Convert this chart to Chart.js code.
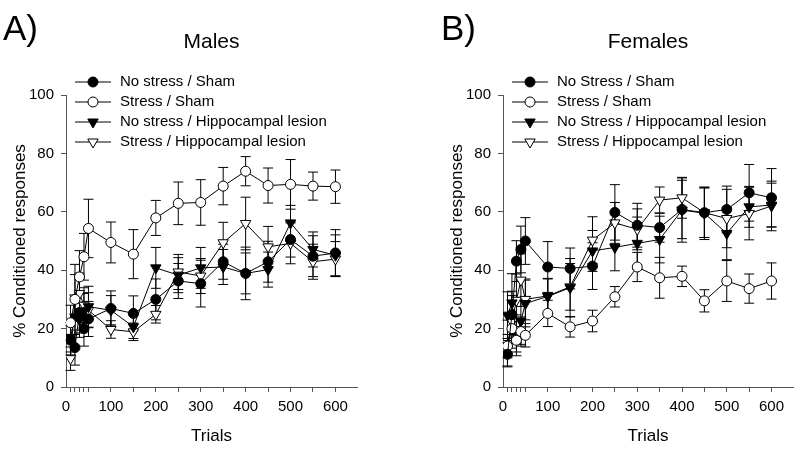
<!DOCTYPE html>
<html>
<head>
<meta charset="utf-8">
<script src="https://cdn.jsdelivr.net/npm/chart.js@4.4.1/dist/chart.umd.min.js"></script>
<style>
  body { margin: 0; background: #fff; }
  #wrap { position: relative; width: 800px; height: 451px; }
  canvas { position: absolute; top: 0; }
</style>
</head>
<body>
<div id="wrap">
  <canvas id="males" width="400" height="451" style="left:0"></canvas>
  <canvas id="females" width="400" height="451" style="left:400px"></canvas>
</div>
<script>
// blocos de tentativas (eixo x)
const trials = [10, 20, 30, 40, 50, 100, 150, 200, 250, 300, 350, 400, 450, 500, 550, 600];
const xTicks = [0].concat(trials);
const yTicks = [0, 20, 40, 60, 80, 100];

// Machos - % respostas condicionadas
const nsShamM = [16, 13.5, 25.5, 20, 23.3, 26.9, 25.2, 30, 36.3, 35.4, 42.9, 38.9, 42.9, 50.5, 44.8, 45.9];
const sShamM = [22, 30, 37.7, 44.6, 54.3, 49.5, 45.5, 57.9, 62.9, 63.2, 68.8, 73.9, 69, 69.4, 68.8, 68.6];
const nsHippM = [17, 24, 23, 26, 27.5, 26.3, 20.6, 40.8, 38.3, 40.8, 41.1, 38.9, 40.2, 56.2, 47.1, 45.1];
const sHippM = [9.7, 30.5, 32, 28, 26.3, 19.7, 18.9, 24.9, 39.4, 38, 49.4, 56, 48, 49.2, 42.9, 43.8];
// erro padrão (machos)
const nsShamMErr = [5, 6, 7, 6, 6, 6, 6, 7, 6, 8, 6, 9, 7, 6, 7, 8];
const sShamMErr = [6, 12, 9, 8, 10, 7, 8.4, 6, 7.3, 7.8, 6.4, 5, 6, 8.5, 4.8, 5.7];
const nsHippMErr = [5, 6, 6, 6, 7, 5, 4, 7, 6, 7, 6, 7, 6, 6, 6, 7];
const sHippMErr = [4, 8, 7, 6, 6, 3, 3, 3, 6, 6, 7, 9, 7, 7, 6, 6];

// Fêmeas
const nsShamF = [11.2, 24.8, 43.1, 47.1, 50, 41.1, 40.6, 41.4, 59.8, 55.4, 54.6, 60.8, 59.7, 60.8, 66.5, 64.8];
const sShamF = [14, 20, 16, 19, 17.7, 25.2, 20.6, 22.6, 30.9, 41.1, 37.4, 37.9, 29.5, 36.3, 33.7, 36.3];
const nsHippF = [24.6, 28.8, 17.7, 22.6, 28.6, 31, 34, 46.6, 47.8, 49.2, 50.5, 60.6, 59.5, 52.6, 61.7, 62.3];
const sHippF = [14.9, 22.3, 29.7, 36.6, 30, 31.2, 34.3, 50.3, 56.2, 54, 64, 64.8, 59.7, 57.7, 59.4, 62];
// erro padrão (fêmeas)
const nsShamFErr = [4, 8, 7, 8, 8, 8.7, 7, 8, 9.5, 7.5, 5, 10, 8.5, 8, 9.7, 10];
const sShamFErr = [4, 5, 4, 5, 4, 4.5, 3.5, 3.7, 3.5, 5, 7, 3.5, 3.8, 7, 5, 6.2];
const nsHippFErr = [8, 10, 7, 8, 8, 6, 10, 7, 8, 9, 8, 11, 9, 9, 7, 7.5];
const sHippFErr = [8, 9, 9, 9, 7, 6, 8, 8, 7, 7, 4.5, 7, 8.5, 10, 9, 8.5];

const namesM = ['No stress / Sham', 'Stress / Sham', 'No stress / Hippocampal lesion', 'Stress / Hippocampal lesion'];
const namesF = ['No Stress / Sham', 'Stress / Sham', 'No Stress / Hippocampal lesion', 'Stress / Hippocampal lesion'];

const FONT = "'Liberation Sans', Arial, sans-serif";
const axisCol = '#555';

// estilo dos marcadores: cheio/vazio, círculo/triângulo invertido
const markers = [
    { style: 'circle', fill: '#000', rot: 0, r: 5 },
    { style: 'circle', fill: '#fff', rot: 0, r: 5 },
    { style: 'triangle', fill: '#000', rot: 180, r: 6 },
    { style: 'triangle', fill: '#fff', rot: 180, r: 6 }
];

// plugin: barras de erro, legenda e títulos
const extras = {
    id: 'extras',
    beforeDatasetsDraw(chart) {
        const ctx = chart.ctx;
        const xs = chart.scales.x, ys = chart.scales.y;
        ctx.save();
        ctx.strokeStyle = '#000';
        ctx.lineWidth = 1;
        chart.data.datasets.forEach(ds => {
            ds.data.forEach((p, i) => {
                const e = ds.err[i];
                const px = xs.getPixelForValue(p.x);
                const top = ys.getPixelForValue(p.y + e);
                const bot = ys.getPixelForValue(p.y - e);
                ctx.beginPath();
                ctx.moveTo(px, top); ctx.lineTo(px, bot);
                ctx.moveTo(px - 5, top); ctx.lineTo(px + 5, top);
                ctx.moveTo(px - 5, bot); ctx.lineTo(px + 5, bot);
                ctx.stroke();
            });
        });
        ctx.restore();
    },
    afterDraw(chart, args, opts) {
        const ctx = chart.ctx;
        const ca = chart.chartArea;
        ctx.save();
        ctx.fillStyle = '#000';
        ctx.textBaseline = 'alphabetic';
        ctx.font = '35px ' + FONT;
        ctx.textAlign = 'left';
        ctx.fillText(opts.letter, opts.letterX, 40);
        ctx.font = '21px ' + FONT;
        ctx.textAlign = 'center';
        ctx.fillText(opts.title, (ca.left + ca.right) / 2, 48);

        // legenda
        chart.data.datasets.forEach((ds, i) => {
            const y = 82 + 20 * i;
            const m = markers[i];
            ctx.strokeStyle = '#000';
            ctx.lineWidth = 1;
            ctx.beginPath();
            ctx.moveTo(ca.left + 9, y); ctx.lineTo(ca.left + 45, y);
            ctx.stroke();
            ctx.fillStyle = m.fill;
            Chart.helpers.drawPoint(ctx, { pointStyle: m.style, rotation: m.rot, radius: m.r, borderWidth: 1 }, ca.left + 27, y);
            ctx.fillStyle = '#000';
            ctx.font = '15px ' + FONT;
            ctx.textAlign = 'left';
            ctx.textBaseline = 'middle';
            ctx.fillText(ds.label, ca.left + 54, y);
        });
        ctx.restore();
    }
};

function makePanel(id, letter, letterX, title, names, series, errs, padLeft, padRight) {
    const datasets = series.map((vals, i) => ({
        label: names[i],
        data: trials.map((t, j) => ({ x: t, y: vals[j] })),
        err: errs[i],
        borderColor: '#000',
        borderWidth: 1,
        pointStyle: markers[i].style,
        pointRotation: markers[i].rot,
        pointRadius: markers[i].r,
        pointBackgroundColor: markers[i].fill,
        pointBorderColor: '#000',
        pointBorderWidth: 1,
        tension: 0
    }));

    new Chart(document.getElementById(id), {
        type: 'line',
        data: { datasets: datasets },
        plugins: [extras],
        options: {
            responsive: false,
            animation: false,
            layout: { padding: { left: padLeft, right: padRight, top: 95, bottom: 0 } },
            plugins: {
                legend: { display: false },
                tooltip: { enabled: false },
                extras: { letter: letter, letterX: letterX, title: title }
            },
            scales: {
                x: {
                    type: 'linear',
                    min: 0,
                    max: 648,
                    afterBuildTicks: s => { s.ticks = xTicks.map(v => ({ value: v })); },
                    afterFit: s => { s.height = 64; },
                    ticks: {
                        autoSkip: false,
                        maxRotation: 0,
                        padding: 6,
                        color: '#000',
                        font: { family: FONT, size: 15 },
                        callback: v => (v % 100 === 0 ? v : '')
                    },
                    grid: {
                        drawOnChartArea: false,
                        tickLength: 5,
                        color: c => (c.tick && c.tick.value === 0 ? 'rgba(0,0,0,0)' : axisCol)
                    },
                    border: { color: axisCol, width: 1 },
                    title: {
                        display: true,
                        text: 'Trials',
                        color: '#000',
                        font: { family: FONT, size: 17 },
                        padding: { top: 0, bottom: 4 }
                    }
                },
                y: {
                    min: 0,
                    max: 100,
                    afterBuildTicks: s => { s.ticks = yTicks.map(v => ({ value: v })); },
                    afterFit: s => { s.width = 66; },
                    ticks: {
                        padding: 7,
                        color: '#000',
                        font: { family: FONT, size: 15 }
                    },
                    grid: { drawOnChartArea: false, tickLength: 5, color: axisCol },
                    border: { color: axisCol, width: 1 },
                    title: {
                        display: true,
                        text: '% Conditioned responses',
                        color: '#000',
                        font: { family: FONT, size: 17 },
                        padding: { top: 10, bottom: 0 }
                    }
                }
            }
        }
    });
}

makePanel('males', 'A)', 3, 'Males', namesM,
    [nsShamM, sShamM, nsHippM, sHippM],
    [nsShamMErr, sShamMErr, nsHippMErr, sHippMErr], 0, 43);

makePanel('females', 'B)', 41, 'Females', namesF,
    [nsShamF, sShamF, nsHippF, sHippF],
    [nsShamFErr, sShamFErr, nsHippFErr, sHippFErr], 37, 7);
</script>
</body>
</html>
